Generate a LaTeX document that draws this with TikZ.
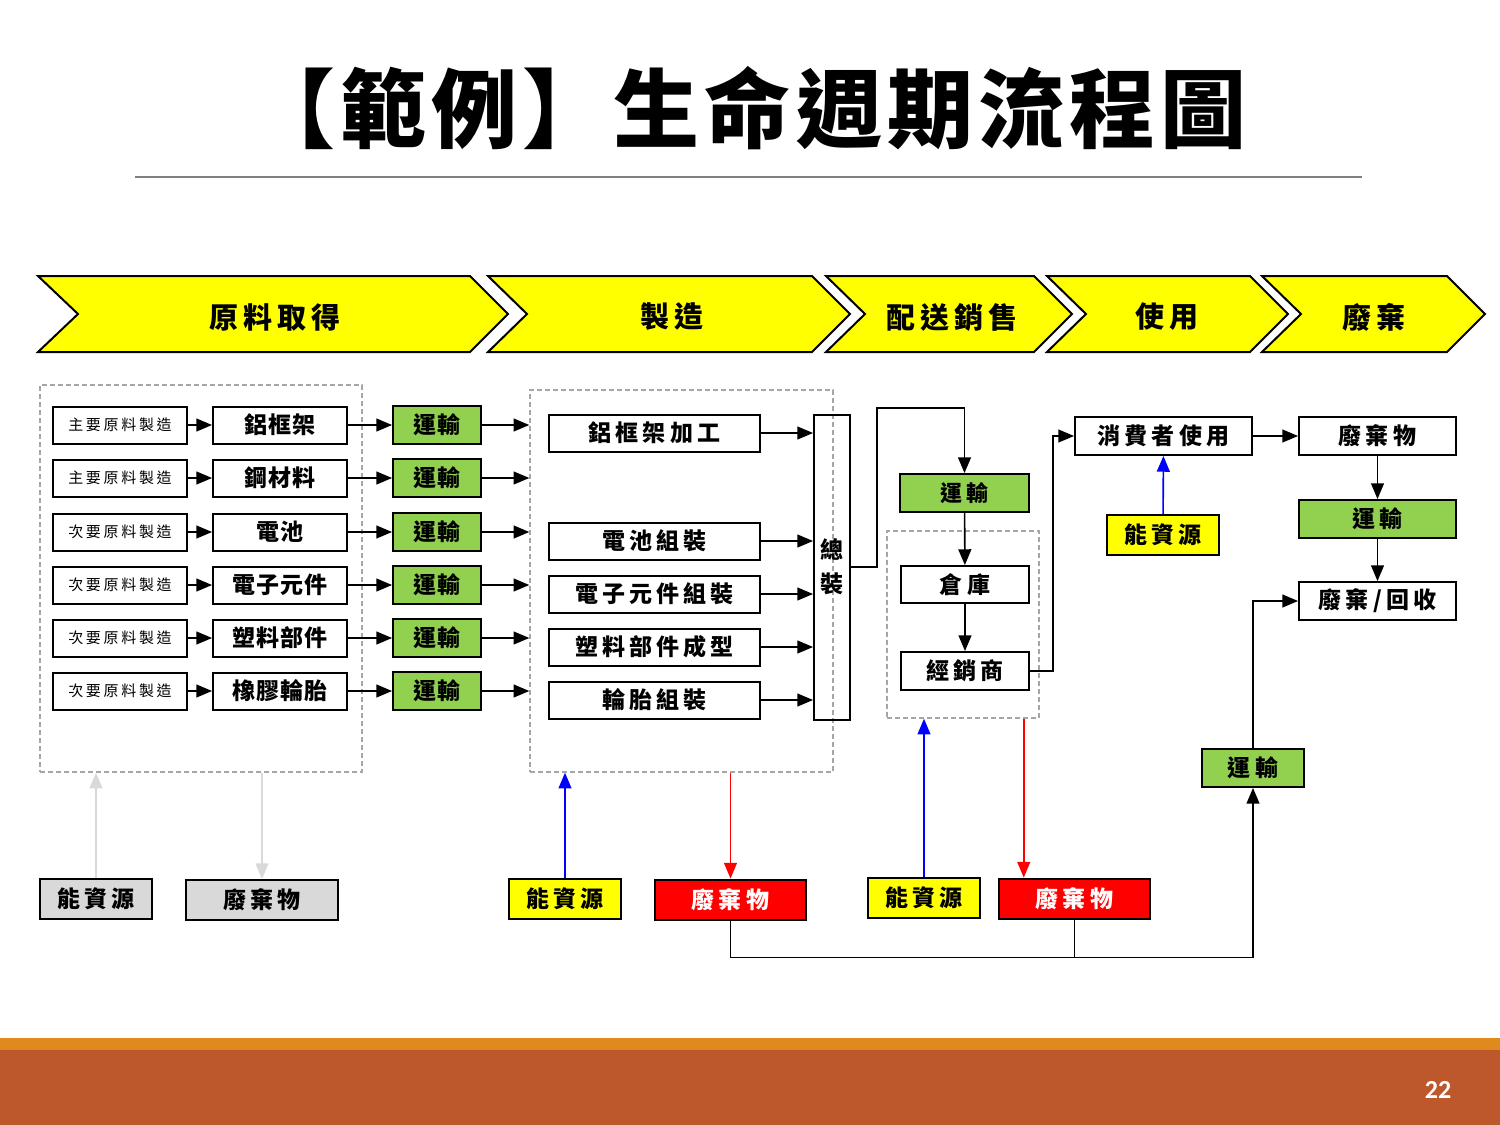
\documentclass[tikz,border=0pt]{standalone}
\usepackage{fontspec}
\setmainfont{Noto Sans CJK TC}
\newfontfamily\widefont{Noto Sans CJK TC}[LetterSpace=18]
\newfontfamily\tightfont{Noto Sans CJK TC}[LetterSpace=3]
\newfontfamily\titlefont{Noto Sans CJK TC}[LetterSpace=6]
\newfontfamily\numfont{Carlito}
\usetikzlibrary{arrows,positioning}

\definecolor{chevyellow}{HTML}{FFFF00}
\definecolor{shipgreen}{HTML}{92D050}
\definecolor{wastered}{HTML}{FF0000}
\definecolor{boxgray}{HTML}{D9D9D9}
\definecolor{dashgray}{HTML}{A6A6A6}
\definecolor{barorange}{HTML}{E08A1E}
\definecolor{barbrown}{HTML}{BC582C}

\tikzset{
  box/.style={draw, line width=1pt, minimum height=18.5pt, inner sep=0pt,
    font=\widefont\bfseries\fontsize{11.5}{12}\selectfont},
  raw/.style={box, minimum width=67pt, font=\widefont\fontsize{7.5}{8}\selectfont},
  part/.style={box, minimum width=67pt, font=\tightfont\bfseries\fontsize{11.5}{12}\selectfont},
  ship/.style={box, fill=shipgreen, minimum height=19pt,
    font=\tightfont\bfseries\fontsize{11.5}{12}\selectfont},
  proc/.style={box, minimum width=105.5pt},
  res/.style={box, minimum width=56pt, minimum height=20pt, fill=chevyellow},
  waste/.style={box, minimum width=75.5pt, minimum height=20pt, fill=wastered, text=white},
  grp/.style={draw=dashgray, line width=0.75pt, dash pattern=on 2.5pt off 1.5pt, inner sep=0pt},
  chev/.style={draw, fill=chevyellow, line width=1pt},
  chevtext/.style={font=\widefont\bfseries\fontsize{14.5}{15}\selectfont},
  flow/.style={->, line width=0.8pt}
}

\begin{document}
\begin{tikzpicture}[x=0.5pt,y=-0.5pt,>=triangle 45,node distance=80pt]

\useasboundingbox (0,0) rectangle (1500,1125);

% title and footer
\node[font=\titlefont\bfseries\fontsize{43}{43}\selectfont] (title) at (748,108) {【範例】生命週期流程圖};
\draw[gray, line width=0.75pt] (135,177) -- (1362,177);
\fill[barorange] (0,1038) rectangle (1500,1050);
\fill[barbrown] (0,1050) rectangle (1500,1125);
\node[text=white, font=\numfont\bfseries\fontsize{13}{13}\selectfont] (pg) at (1438,1090) {22};

% life cycle stages
\draw[chev] (38,276) -- (470,276) -- (508,314) -- (470,352) -- (38,352) -- (78,314) -- cycle;
\draw[chev] (488,276) -- (812,276) -- (850,314) -- (812,352) -- (488,352) -- (527,314) -- cycle;
\draw[chev] (826,276) -- (1034,276) -- (1072,314) -- (1034,352) -- (826,352) -- (865,314) -- cycle;
\draw[chev] (1047,276) -- (1250,276) -- (1288,314) -- (1250,352) -- (1047,352) -- (1086,314) -- cycle;
\draw[chev] (1262,276) -- (1447,276) -- (1485,314) -- (1447,352) -- (1262,352) -- (1301,314) -- cycle;
\node[chevtext] (st1) at (275,317) {原料取得};
\node[chevtext] (st2) at (672,317) {製造};
\node[chevtext] (st3) at (952,317) {配送銷售};
\node[chevtext] (st4) at (1167,317) {使用};
\node[chevtext] (st5) at (1374,317) {廢棄};

% dashed groups
\node[grp, minimum width=161pt, minimum height=193.5pt] (src) at (201,578.5) {};
\node[grp, minimum width=151.5pt, minimum height=191pt] (mfg) at (681.5,581) {};
\node[grp, minimum width=76pt, minimum height=93.5pt] (dist) at (963,624.5) {};

% raw materials
\node[raw] (raw1) at (120,425) {主要原料製造};
\node[part] (part1) [right of=raw1] {鋁框架};
\node[ship, minimum width=44pt, node distance=78.5pt] (ship1) [right of=part1] {運輸};

\node[raw] (raw2) at (120,478) {主要原料製造};
\node[part] (part2) [right of=raw2] {鋼材料};
\node[ship, minimum width=44pt, node distance=78.5pt] (ship2) [right of=part2] {運輸};

\node[raw] (raw3) at (120,532) {次要原料製造};
\node[part] (part3) [right of=raw3] {電池};
\node[ship, minimum width=44pt, node distance=78.5pt] (ship3) [right of=part3] {運輸};

\node[raw] (raw4) at (120,585) {次要原料製造};
\node[part] (part4) [right of=raw4] {電子元件};
\node[ship, minimum width=44pt, node distance=78.5pt] (ship4) [right of=part4] {運輸};

\node[raw] (raw5) at (120,638) {次要原料製造};
\node[part] (part5) [right of=raw5] {塑料部件};
\node[ship, minimum width=44pt, node distance=78.5pt] (ship5) [right of=part5] {運輸};

\node[raw] (raw6) at (120,691) {次要原料製造};
\node[part] (part6) [right of=raw6] {橡膠輪胎};
\node[ship, minimum width=44pt, node distance=78.5pt] (ship6) [right of=part6] {運輸};

\path[flow] (raw1) edge (part1) (part1) edge (ship1) (ship1) edge (ship1 -| mfg.west)
            (raw2) edge (part2) (part2) edge (ship2) (ship2) edge (ship2 -| mfg.west)
            (raw3) edge (part3) (part3) edge (ship3) (ship3) edge (ship3 -| mfg.west)
            (raw4) edge (part4) (part4) edge (ship4) (ship4) edge (ship4 -| mfg.west)
            (raw5) edge (part5) (part5) edge (ship5) (ship5) edge (ship5 -| mfg.west)
            (raw6) edge (part6) (part6) edge (ship6) (ship6) edge (ship6 -| mfg.west);

% manufacturing
\node[proc] (mf1) at (654.5,433) {鋁框架加工};
\node[proc] (mf2) at (654.5,541) {電池組裝};
\node[proc] (mf3) at (654.5,594) {電子元件組裝};
\node[proc] (mf4) at (654.5,647) {塑料部件成型};
\node[proc] (mf5) at (654.5,700) {輪胎組裝};
\node[box, minimum width=18pt, minimum height=152.5pt, align=center,
      font=\bfseries\fontsize{11.5}{17}\selectfont] (asm) at (832,567) {總\\裝};

\path[flow] (mf1) edge (mf1 -| asm.west)
            (mf2) edge (mf2 -| asm.west)
            (mf3) edge (mf3 -| asm.west)
            (mf4) edge (mf4 -| asm.west)
            (mf5) edge (mf5 -| asm.west);

% distribution
\node[ship, minimum width=64.5pt, font=\widefont\bfseries\fontsize{11}{12}\selectfont] (ship7) at (964.5,493) {運輸};
\node[box, minimum width=64pt] (store) at (965,584.5) {倉庫};
\node[box, minimum width=64pt, minimum height=19pt] (dealer) at (965,671) {經銷商};

\draw[flow] (asm.east) -- ++(26,0) |- ([yshift=32.5pt]ship7.north) -- (ship7.north);
\path[flow] (ship7) edge (store)
            (store) edge (dealer);

% use and disposal
\node[box, minimum width=88.5pt, minimum height=19pt] (user) at (1163.5,436) {消費者使用};
\node[box, minimum width=78.5pt, minimum height=19pt] (trash) at (1377.5,436) {廢棄物};
\node[ship, minimum width=78.5pt, font=\widefont\bfseries\fontsize{11.5}{12}\selectfont] (ship8) at (1377.5,519) {運輸};
\node[box, minimum width=78.5pt, minimum height=19pt] (recyc) at (1377.5,601) {廢棄/回收};
\node[res] (en4) at (1163,535) {能資源};

\draw[flow] (dealer.east) -- ++(23,0) |- (user.west);
\path[flow] (user) edge (trash)
            (trash) edge (ship8)
            (ship8) edge (recyc);
\draw[flow, blue] (en4) -- (user);

% energy and waste of each stage
\node[res, fill=boxgray] (en1) at (96,899) {能資源};
\node[waste, fill=boxgray, text=black, minimum width=76pt] (w1) at (262,900) {廢棄物};
\node[res] (en2) at (565,898.5) {能資源};
\node[waste] (w2) at (730.5,899.5) {廢棄物};
\node[res] (en3) at (924,897.5) {能資源};
\node[waste] (w3) at (1074.5,898.5) {廢棄物};
\node[ship, minimum width=51pt, font=\widefont\bfseries\fontsize{11.5}{12}\selectfont] (ship9) at (1253,768) {運輸};

\draw[flow, boxgray] (en1.north) -- (en1.north |- src.south);
\draw[flow, boxgray] (src.south -| w1.north) -- (w1.north);
\draw[flow, blue] (en2.north) -- (en2.north |- mfg.south);
\draw[flow, red] (mfg.south -| w2.north) -- (w2.north);
\draw[flow, blue] (en3.north) -- (en3.north |- dist.south);
\draw[flow, red] ([xshift=-8pt]dist.south east) -- ([xshift=-8pt]dist.south east |- w3.north);

\draw[line width=0.8pt] (w3.south) -- ++(0,38);
\draw[flow] (w2.south) -- ++(0,37) -| (ship9.south);
\draw[flow] (ship9.north) |- (recyc.west);

\end{tikzpicture}
\end{document}
